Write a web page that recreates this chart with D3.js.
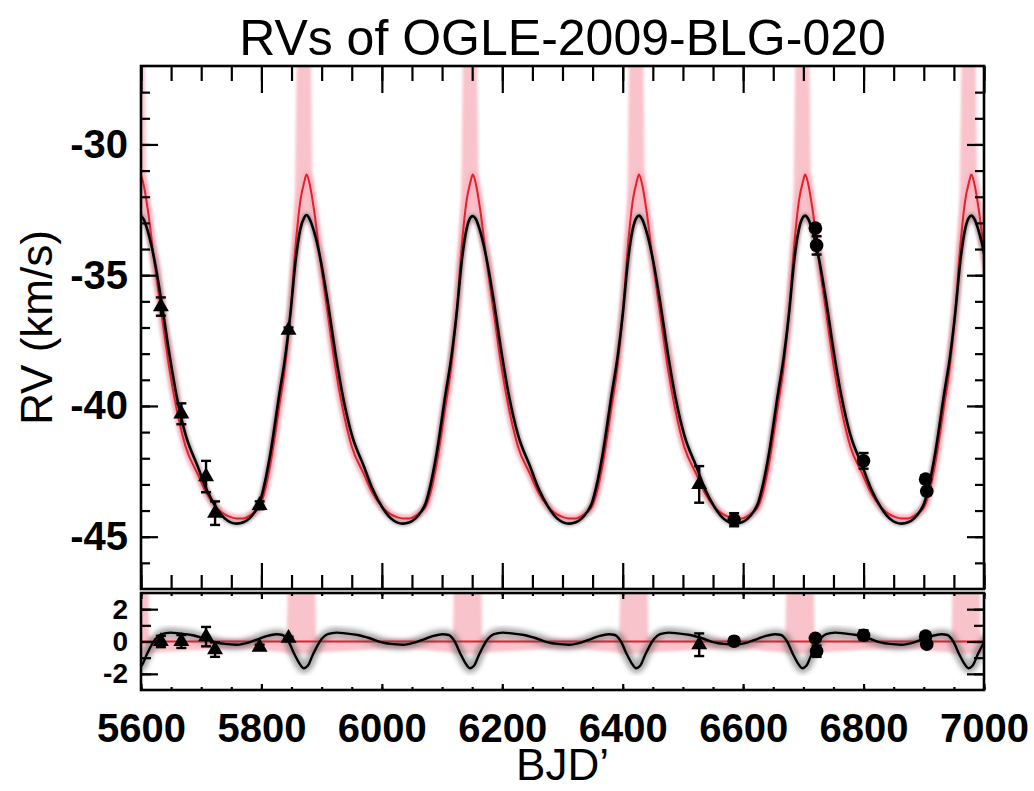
<!DOCTYPE html>
<html>
<head>
<meta charset="utf-8">
<script src="https://cdn.jsdelivr.net/npm/d3@7/dist/d3.min.js"></script>
<style>
  body { margin: 0; background: #fff; }
  svg { display: block; font-family: "Liberation Sans", Arial, Helvetica, sans-serif; }
</style>
</head>
<body>
<div id="chart"></div>
<script>
// ---------------- data ----------------
var xTicks = [5600, 5800, 6000, 6200, 6400, 6600, 6800, 7000];
var yTicksMain = [-30, -35, -40, -45];
var yTicksRes = [2, 0, -2];

// model curves, BJD'
var modelT = [
  5572, 5581, 5589, 5595, 5599, 5604, 5611, 5623, 5634, 5647, 5659, 5674, 5694, 5709, 5724, 5739, 5749,
  5759, 5770, 5780, 5789, 5797, 5805, 5815, 5830, 5839, 5848, 5857, 5865, 5871, 5875, 5880, 5887, 5899, 5910, 5923, 5935, 5950, 5970, 5985, 6000, 6015, 6025,
  6035, 6046, 6056, 6065, 6073, 6081, 6091, 6106, 6115, 6124, 6133, 6141, 6147, 6151, 6156, 6163, 6175, 6186, 6199, 6211, 6226, 6246, 6261, 6276, 6291, 6301,
  6311, 6322, 6332, 6341, 6349, 6357, 6367, 6382, 6391, 6400, 6409, 6417, 6423, 6427, 6432, 6439, 6451, 6462, 6475, 6487, 6502, 6522, 6537, 6552, 6567, 6577,
  6587, 6598, 6608, 6617, 6625, 6633, 6643, 6658, 6667, 6676, 6685, 6693, 6699, 6703, 6708, 6715, 6727, 6738, 6751, 6763, 6778, 6798, 6813, 6828, 6843, 6853,
  6863, 6874, 6884, 6893, 6901, 6909, 6919, 6934, 6943, 6952, 6961, 6969, 6975, 6979, 6984, 6991, 7003, 7014
];
var modelBlack = [
  -36.5, -34.4, -33.2, -32.8, -32.72, -32.85, -33.3, -34.5, -36.0, -38.0, -39.6, -41.1, -42.3, -43.2, -43.85, -44.3, -44.45,
  -44.5, -44.45, -44.3, -44.05, -43.7, -43.0, -41.8, -39.5, -38.2, -36.5, -34.4, -33.2, -32.8, -32.7, -32.85, -33.3, -34.5, -36.0, -38.0, -39.6, -41.1, -42.3, -43.2, -43.85, -44.3, -44.45,
  -44.5, -44.45, -44.3, -44.05, -43.7, -43.0, -41.8, -39.5, -38.2, -36.5, -34.4, -33.2, -32.8, -32.74, -32.85, -33.3, -34.5, -36.0, -38.0, -39.6, -41.1, -42.3, -43.2, -43.85, -44.3, -44.45,
  -44.5, -44.45, -44.3, -44.05, -43.7, -43.0, -41.8, -39.5, -38.2, -36.5, -34.4, -33.2, -32.8, -32.72, -32.85, -33.3, -34.5, -36.0, -38.0, -39.6, -41.1, -42.3, -43.2, -43.85, -44.3, -44.45,
  -44.5, -44.45, -44.3, -44.05, -43.7, -43.0, -41.8, -39.5, -38.2, -36.5, -34.4, -33.2, -32.8, -32.72, -32.85, -33.3, -34.5, -36.0, -38.0, -39.6, -41.1, -42.3, -43.2, -43.85, -44.3, -44.45,
  -44.5, -44.45, -44.3, -44.05, -43.7, -43.0, -41.8, -39.5, -38.2, -36.5, -34.4, -33.2, -32.8, -32.72, -32.85, -33.3, -34.5, -36.0
];
var modelRed = [
  -36.5, -33.8, -32.1, -31.45, -31.15, -31.5, -32.45, -34.65, -36.45, -38.55, -40.1, -41.55, -42.6, -43.35, -43.85, -44.15, -44.25,
  -44.3, -44.3, -44.2, -44.05, -43.85, -43.3, -42.2, -39.95, -38.55, -36.5, -33.8, -32.1, -31.45, -31.15, -31.5, -32.45, -34.65, -36.45, -38.55, -40.1, -41.55, -42.6, -43.35, -43.85, -44.15, -44.25,
  -44.3, -44.3, -44.2, -44.05, -43.85, -43.3, -42.2, -39.95, -38.55, -36.5, -33.8, -32.1, -31.45, -31.15, -31.5, -32.45, -34.65, -36.45, -38.55, -40.1, -41.55, -42.6, -43.35, -43.85, -44.15, -44.25,
  -44.3, -44.3, -44.2, -44.05, -43.85, -43.3, -42.2, -39.95, -38.55, -36.5, -33.8, -32.1, -31.45, -31.15, -31.5, -32.45, -34.65, -36.45, -38.55, -40.1, -41.55, -42.6, -43.35, -43.85, -44.15, -44.25,
  -44.3, -44.3, -44.2, -44.05, -43.85, -43.3, -42.2, -39.95, -38.55, -36.5, -33.8, -32.1, -31.45, -31.15, -31.5, -32.45, -34.65, -36.45, -38.55, -40.1, -41.55, -42.6, -43.35, -43.85, -44.15, -44.25,
  -44.3, -44.3, -44.2, -44.05, -43.85, -43.3, -42.2, -39.95, -38.55, -36.5, -33.8, -32.1, -31.45, -31.15, -31.5, -32.45, -34.65, -36.45
];

// pink uncertainty spikes of the red model around each maximum (null = gap)
var pinkT = [
  5582, 5584, 5599, 5605, 5607, 5609, 5619, 5631, 5644, 5657, 5674, null,
  5815, 5830, 5839, 5848, 5853, 5856, 5858, 5860, 5875, 5881, 5883, 5885, 5895, 5907, 5920, 5933, 5950, null,
  6091, 6106, 6115, 6124, 6129, 6132, 6134, 6136, 6151, 6157, 6159, 6161, 6171, 6183, 6196, 6209, 6226, null,
  6367, 6382, 6391, 6400, 6405, 6408, 6410, 6412, 6427, 6433, 6435, 6437, 6447, 6459, 6472, 6485, 6502, null,
  6643, 6658, 6667, 6676, 6681, 6684, 6686, 6688, 6703, 6709, 6711, 6713, 6723, 6735, 6748, 6761, 6778, null,
  6919, 6934, 6943, 6952, 6957, 6960, 6962, 6964, 6979, 6985, 6987, 6989, 6999, 7011, 7024
];
var pinkLo = [
  -34.6, -34.2, -33.0, -33.1, -33.3, -33.5, -34.3, -35.8, -38.0, -39.9, -41.8, null,
  -42.3, -40.0, -38.6, -36.8, -35.8, -35.0, -34.6, -34.2, -33.0, -33.1, -33.3, -33.5, -34.3, -35.8, -38.0, -39.9, -41.8, null,
  -42.3, -40.0, -38.6, -36.8, -35.8, -35.0, -34.6, -34.2, -33.0, -33.1, -33.3, -33.5, -34.3, -35.8, -38.0, -39.9, -41.8, null,
  -42.3, -40.0, -38.6, -36.8, -35.8, -35.0, -34.6, -34.2, -33.0, -33.1, -33.3, -33.5, -34.3, -35.8, -38.0, -39.9, -41.8, null,
  -42.3, -40.0, -38.6, -36.8, -35.8, -35.0, -34.6, -34.2, -33.0, -33.1, -33.3, -33.5, -34.3, -35.8, -38.0, -39.9, -41.8, null,
  -42.3, -40.0, -38.6, -36.8, -35.8, -35.0, -34.6, -34.2, -33.0, -33.1, -33.3, -33.5, -34.3, -35.8, -38.0
];
var pinkHi = [
  -27.8, -25.5, -25.5, -25.5, -28.3, -31.2, -33.3, -34.4, -36.7, -38.2, -41.0, null,
  -41.5, -38.9, -37.3, -35.3, -33.6, -31.3, -27.8, -25.5, -25.5, -25.5, -28.3, -31.2, -33.3, -34.4, -36.7, -38.2, -41.0, null,
  -41.5, -38.9, -37.3, -35.3, -33.6, -31.3, -27.8, -25.5, -25.5, -25.5, -28.3, -31.2, -33.3, -34.4, -36.7, -38.2, -41.0, null,
  -41.5, -38.9, -37.3, -35.3, -33.6, -31.3, -27.8, -25.5, -25.5, -25.5, -28.3, -31.2, -33.3, -34.4, -36.7, -38.2, -41.0, null,
  -41.5, -38.9, -37.3, -35.3, -33.6, -31.3, -27.8, -25.5, -25.5, -25.5, -28.3, -31.2, -33.3, -34.4, -36.7, -38.2, -41.0, null,
  -41.5, -38.9, -37.3, -35.3, -33.6, -31.3, -27.8, -25.5, -25.5, -25.5, -28.3, -31.2, -33.3, -34.4, -36.7
];

// residual panel: black model minus red model
var resT = [
  5587, 5594, 5601, 5609, 5617, 5624, 5634, 5649, 5664, 5684, 5704, 5724, 5739,
  5759, 5780, 5795, 5810, 5825, 5835, 5845, 5855, 5863, 5870, 5877, 5885, 5893, 5900, 5910, 5925, 5940, 5960, 5980, 6000, 6015,
  6035, 6056, 6071, 6086, 6101, 6111, 6121, 6131, 6139, 6146, 6153, 6161, 6169, 6176, 6186, 6201, 6216, 6236, 6256, 6276, 6291,
  6311, 6332, 6347, 6362, 6377, 6387, 6397, 6407, 6415, 6422, 6429, 6437, 6445, 6452, 6462, 6477, 6492, 6512, 6532, 6552, 6567,
  6587, 6608, 6623, 6638, 6653, 6663, 6673, 6683, 6691, 6698, 6705, 6713, 6721, 6728, 6738, 6753, 6768, 6788, 6808, 6828, 6843,
  6863, 6884, 6899, 6914, 6929, 6939, 6949, 6959, 6967, 6974, 6981, 6989, 6997, 7004, 7014
];
var resBlack = [
  -1.35, -1.65, -1.5, -0.85, -0.25, 0.15, 0.45, 0.55, 0.5, 0.4, 0.2, -0.05, -0.15,
  -0.2, -0.05, 0.15, 0.35, 0.45, 0.4, 0.0, -0.8, -1.35, -1.65, -1.5, -0.85, -0.25, 0.15, 0.45, 0.55, 0.5, 0.4, 0.2, -0.05, -0.15,
  -0.2, -0.05, 0.15, 0.35, 0.45, 0.4, 0.0, -0.8, -1.35, -1.65, -1.5, -0.85, -0.25, 0.15, 0.45, 0.55, 0.5, 0.4, 0.2, -0.05, -0.15,
  -0.2, -0.05, 0.15, 0.35, 0.45, 0.4, 0.0, -0.8, -1.35, -1.65, -1.5, -0.85, -0.25, 0.15, 0.45, 0.55, 0.5, 0.4, 0.2, -0.05, -0.15,
  -0.2, -0.05, 0.15, 0.35, 0.45, 0.4, 0.0, -0.8, -1.35, -1.65, -1.5, -0.85, -0.25, 0.15, 0.45, 0.55, 0.5, 0.4, 0.2, -0.05, -0.15,
  -0.2, -0.05, 0.15, 0.35, 0.45, 0.4, 0.0, -0.8, -1.35, -1.65, -1.5, -0.85, -0.25, 0.15, 0.45
];
var resPinkT = [
  5570, 5612, 5614, 5659,
  5759, 5815, 5842, 5844, 5889, 5891, 5935,
  6035, 6091, 6118, 6120, 6165, 6167, 6211,
  6311, 6367, 6394, 6396, 6441, 6443, 6487,
  6587, 6643, 6670, 6672, 6717, 6719, 6763,
  6863, 6919, 6946, 6948, 6993, 6995, 7039
];
var resPinkLo = [
  -0.75, -0.75, -0.7, -0.6,
  -0.45, -0.6, -0.7, -0.75, -0.75, -0.7, -0.6,
  -0.45, -0.6, -0.7, -0.75, -0.75, -0.7, -0.6,
  -0.45, -0.6, -0.7, -0.75, -0.75, -0.7, -0.6,
  -0.45, -0.6, -0.7, -0.75, -0.75, -0.7, -0.6,
  -0.45, -0.6, -0.7, -0.75, -0.75, -0.7, -0.6
];
var resPinkHi = [
  3.5, 3.5, 0.3, 0.25,
  0.15, 0.25, 0.3, 3.5, 3.5, 0.3, 0.25,
  0.15, 0.25, 0.3, 3.5, 3.5, 0.3, 0.25,
  0.15, 0.25, 0.3, 3.5, 3.5, 0.3, 0.25,
  0.15, 0.25, 0.3, 3.5, 3.5, 0.3, 0.25,
  0.15, 0.25, 0.3, 3.5, 3.5, 0.3, 0.25
];

// observations: triangles (first instrument), circles (second instrument)
var triT   = [5633, 5667, 5708, 5723, 5797, 5845, 6527];
var triRV  = [-36.2, -40.3, -42.7, -44.1, -43.8, -37.1, -43.0];
var triErr = [0.35, 0.4, 0.6, 0.45, 0.15, 0.1, 0.7];
var triRes = [0.0, 0.0, 0.3, -0.5, -0.35, 0.2, -0.2];

var cirT   = [6585, 6720, 6722, 6800, 6903, 6905];
var cirRV  = [-44.35, -33.2, -33.86, -42.1, -42.8, -43.26];
var cirErr = [0.25, 0.1, 0.35, 0.3, 0.15, 0.15];
var cirRes = [0.02, 0.2, -0.6, 0.39, 0.33, -0.17];

// ---------------- layout ----------------
var W = 1034, H = 791;
var left = 141, right = 984;
var mainTop = 66, mainBot = 589, resTop = 593, resBot = 690;

var svg = d3.select("#chart").append("svg")
    .attr("width", W)
    .attr("height", H);

var x = d3.scaleLinear().domain([5600, 7000]).range([left, right]);
var y = d3.scaleLinear().domain([-47, -27]).range([mainBot, mainTop]);
var yr = d3.scaleLinear().domain([-3, 3]).range([resBot, resTop]);

var defs = svg.append("defs");
defs.append("clipPath").attr("id", "clipMain").append("rect")
    .attr("x", left).attr("y", mainTop).attr("width", right - left).attr("height", mainBot - mainTop);
defs.append("clipPath").attr("id", "clipRes").append("rect")
    .attr("x", left).attr("y", resTop).attr("width", right - left).attr("height", resBot - resTop);
defs.append("filter").attr("id", "blur").attr("x", "-10%").attr("y", "-10%").attr("width", "120%").attr("height", "120%")
    .append("feGaussianBlur").attr("stdDeviation", 1.6);
defs.append("filter").attr("id", "blur2").attr("x", "-10%").attr("y", "-20%").attr("width", "120%").attr("height", "140%")
    .append("feGaussianBlur").attr("stdDeviation", 2.4);

function zip2(t, v) {
  return t.map(function(d, i) { return {t: d, v: v[i]}; });
}
function zip3(t, lo, hi) {
  return t.map(function(d, i) { return {t: d, lo: lo[i], hi: hi[i]}; });
}

// ---------------- main panel ----------------
var gMain = svg.append("g").attr("clip-path", "url(#clipMain)");

var band = d3.area()
    .defined(function(d) { return d.t != null; })
    .x(function(d) { return x(d.t); })
    .y0(function(d) { return y(d.lo); })
    .y1(function(d) { return y(d.hi); })
    .curve(d3.curveMonotoneX);

gMain.append("path")
    .datum(zip3(pinkT, pinkLo, pinkHi))
    .attr("fill", "#f9c3cb")
    .attr("filter", "url(#blur)")
    .attr("d", band);

var lineMain = d3.line()
    .x(function(d) { return x(d.t); })
    .y(function(d) { return y(d.v); })
    .curve(d3.curveMonotoneX);

// glows
gMain.append("path")
    .datum(zip2(modelT, modelRed))
    .attr("fill", "none")
    .attr("stroke", "#f7b8c2")
    .attr("stroke-width", 8)
    .attr("filter", "url(#blur)")
    .attr("d", lineMain);
gMain.append("path")
    .datum(zip2(modelT, modelBlack))
    .attr("fill", "none")
    .attr("stroke", "#7a7a7a")
    .attr("stroke-opacity", 0.5)
    .attr("stroke-width", 6)
    .attr("filter", "url(#blur)")
    .attr("d", lineMain);

gMain.append("path")
    .datum(zip2(modelT, modelRed))
    .attr("fill", "none")
    .attr("stroke", "#e3202b")
    .attr("stroke-width", 2)
    .attr("d", lineMain);
gMain.append("path")
    .datum(zip2(modelT, modelBlack))
    .attr("fill", "none")
    .attr("stroke", "#000")
    .attr("stroke-width", 2.6)
    .attr("d", lineMain);

// ---------------- residual panel ----------------
var gRes = svg.append("g").attr("clip-path", "url(#clipRes)");

var bandRes = d3.area()
    .x(function(d) { return x(d.t); })
    .y0(function(d) { return yr(d.lo); })
    .y1(function(d) { return yr(d.hi); })
    .curve(d3.curveMonotoneX);

gRes.append("path")
    .datum(zip3(resPinkT, resPinkLo, resPinkHi))
    .attr("fill", "#f9c3cb")
    .attr("filter", "url(#blur)")
    .attr("d", bandRes);

gRes.append("line")
    .attr("x1", x(5600)).attr("x2", x(7000))
    .attr("y1", yr(0)).attr("y2", yr(0))
    .attr("stroke", "#e3202b")
    .attr("stroke-width", 1.8);

var lineRes = d3.line()
    .x(function(d) { return x(d.t); })
    .y(function(d) { return yr(d.v); })
    .curve(d3.curveMonotoneX);

gRes.append("path")
    .datum(zip2(resT, resBlack))
    .attr("fill", "none")
    .attr("stroke", "#555")
    .attr("stroke-opacity", 0.5)
    .attr("stroke-width", 10)
    .attr("filter", "url(#blur2)")
    .attr("d", lineRes);
gRes.append("path")
    .datum(zip2(resT, resBlack))
    .attr("fill", "none")
    .attr("stroke", "#000")
    .attr("stroke-width", 2.4)
    .attr("d", lineRes);

// ---------------- observations ----------------
function drawPoints(g, ys, tArr, vArr, eArr, shape) {
  var pts = tArr.map(function(t, i) { return {t: t, v: vArr[i], e: eArr[i]}; });
  var eb = g.append("g").attr("stroke", "#000").attr("stroke-width", 2.4);
  pts.forEach(function(d) {
    var cx = x(d.t), y0 = ys(d.v - d.e), y1 = ys(d.v + d.e);
    eb.append("line").attr("x1", cx).attr("x2", cx).attr("y1", y0).attr("y2", y1);
    eb.append("line").attr("x1", cx - 5).attr("x2", cx + 5).attr("y1", y0).attr("y2", y0);
    eb.append("line").attr("x1", cx - 5).attr("x2", cx + 5).attr("y1", y1).attr("y2", y1);
  });
  if (shape === "tri") {
    g.selectAll(null)
      .data(pts)
      .enter()
      .append("path")
      .attr("d", d3.symbol().type(d3.symbolTriangle).size(110))
      .attr("transform", function(d) { return "translate(" + x(d.t) + "," + ys(d.v) + ")"; })
      .attr("fill", "#000");
  } else {
    g.selectAll(null)
      .data(pts)
      .enter()
      .append("circle")
      .attr("cx", function(d) { return x(d.t); })
      .attr("cy", function(d) { return ys(d.v); })
      .attr("r", 6.8)
      .attr("fill", "#000");
  }
}
drawPoints(gMain, y, triT, triRV, triErr, "tri");
drawPoints(gMain, y, cirT, cirRV, cirErr, "cir");
drawPoints(gRes, yr, triT, triRes, triErr, "tri");
drawPoints(gRes, yr, cirT, cirRes, cirErr, "cir");

// ---------------- axes (inward ticks) ----------------
var minorX = d3.range(5600, 7001, 50);

function ticks(gen, pos, vals, size) {
  var g = svg.append("g")
    .attr("transform", pos)
    .call(gen.tickValues(vals).tickSize(size).tickFormat(""));
  g.select(".domain").remove();
  g.selectAll("line").attr("stroke", "#000").attr("stroke-width", 2.2);
  return g;
}

// main panel
ticks(d3.axisBottom(x), "translate(0," + mainTop + ")", minorX, 15);
ticks(d3.axisBottom(x), "translate(0," + mainTop + ")", xTicks, 27);
ticks(d3.axisTop(x), "translate(0," + mainBot + ")", minorX, 14);
ticks(d3.axisTop(x), "translate(0," + mainBot + ")", xTicks, 26);
ticks(d3.axisRight(y), "translate(" + left + ",0)", d3.range(-46, -27, 1), 9);
ticks(d3.axisRight(y), "translate(" + left + ",0)", yTicksMain, 17);
ticks(d3.axisLeft(y), "translate(" + right + ",0)", d3.range(-46, -27, 1), 9);
ticks(d3.axisLeft(y), "translate(" + right + ",0)", yTicksMain, 17);

// residual panel
ticks(d3.axisBottom(x), "translate(0," + resTop + ")", minorX, 3);
ticks(d3.axisBottom(x), "translate(0," + resTop + ")", xTicks, 6);
ticks(d3.axisTop(x), "translate(0," + resBot + ")", minorX, 3);
ticks(d3.axisTop(x), "translate(0," + resBot + ")", xTicks, 6);
ticks(d3.axisRight(yr), "translate(" + left + ",0)", [-2, -1, 0, 1, 2], 10);
ticks(d3.axisRight(yr), "translate(" + left + ",0)", yTicksRes, 17);
ticks(d3.axisLeft(yr), "translate(" + right + ",0)", [-2, -1, 0, 1, 2], 10);
ticks(d3.axisLeft(yr), "translate(" + right + ",0)", yTicksRes, 17);

// frames
svg.append("rect")
    .attr("x", left).attr("y", mainTop)
    .attr("width", right - left).attr("height", mainBot - mainTop)
    .attr("fill", "none").attr("stroke", "#000").attr("stroke-width", 2.6);
svg.append("rect")
    .attr("x", left).attr("y", resTop)
    .attr("width", right - left).attr("height", resBot - resTop)
    .attr("fill", "none").attr("stroke", "#000").attr("stroke-width", 2.6);

// ---------------- tick labels ----------------
function labels(gen, pos, vals, size, pad) {
  var g = svg.append("g")
    .attr("transform", pos)
    .call(gen.tickValues(vals).tickSize(0).tickPadding(pad).tickFormat(function(d) { return String(d); }));
  g.select(".domain").remove();
  g.attr("font-family", null).attr("font-size", null);
  g.selectAll("text")
    .style("font-size", size + "px")
    .style("font-weight", "bold")
    .attr("fill", "#000");
  return g;
}
labels(d3.axisBottom(x), "translate(0," + resBot + ")", xTicks, 40, 24);
labels(d3.axisLeft(y), "translate(" + left + ",0)", yTicksMain, 40, 13);
labels(d3.axisLeft(yr), "translate(" + left + ",0)", yTicksRes, 28, 13);

// ---------------- titles ----------------
svg.append("text")
    .attr("x", (left + right) / 2)
    .attr("y", 55)
    .attr("text-anchor", "middle")
    .style("font-size", "50px")
    .text("RVs of OGLE-2009-BLG-020");

svg.append("text")
    .attr("x", (left + right) / 2)
    .attr("y", 780)
    .attr("text-anchor", "middle")
    .style("font-size", "44px")
    .text("BJD\u2019");

svg.append("text")
    .attr("transform", "translate(52," + ((mainTop + mainBot) / 2) + ") rotate(-90)")
    .attr("text-anchor", "middle")
    .style("font-size", "44px")
    .text("RV (km/s)");
</script>
</body>
</html>
